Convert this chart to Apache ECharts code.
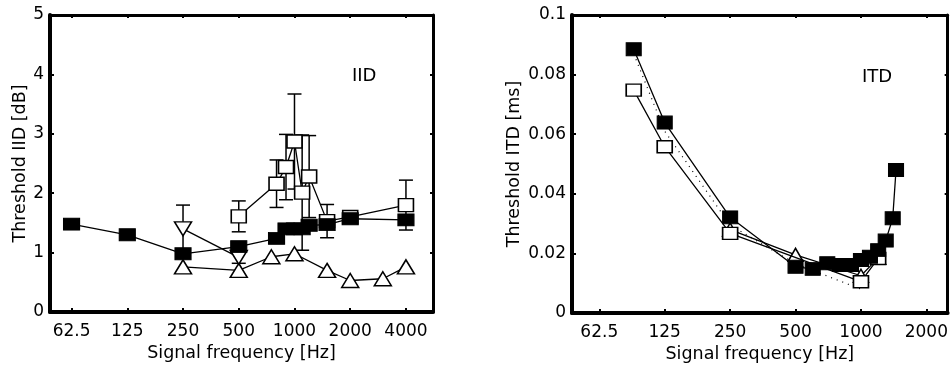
<!DOCTYPE html>
<html>
<head>
<meta charset="utf-8">
<script src="https://cdn.jsdelivr.net/npm/echarts@6/dist/echarts.min.js"></script>
<style>
  html, body { margin: 0; padding: 0; background: #fff; }
  #myCharts { width: 951px; height: 371px; }
</style>
</head>
<body>
<div id="myCharts"></div>
<script>
  // tick labels (Hz)
  var iidTicks = [62.5, 125, 250, 500, 1000, 2000, 4000]
  var itdTicks = [62.5, 125, 250, 500, 1000, 2000]

  // IID panel
  var iidFilledF = [62.5, 125, 250, 500, 800, 900, 1000, 1100, 1200, 1500, 2000, 4000]
  var iidFilledV = [1.48, 1.30, 0.98, 1.10, 1.24, 1.40, 1.40, 1.40, 1.46, 1.47, 1.57, 1.55]
  var iidOpenF = [500, 800, 900, 1000, 1100, 1200, 1500, 2000, 4000]
  var iidOpenV = [1.61, 2.16, 2.44, 2.87, 2.01, 2.28, 1.53, 1.60, 1.80]
  var iidOpenErr = [0.26, 0.40, 0.55, 0.80, 0.97, 0.69, 0.28, 0, 0.42]
  var iidDownF = [250, 500]
  var iidDownV = [1.40, 0.92]
  var iidDownErr = [0.40, 0.10]
  var iidUpF = [250, 500, 750, 1000, 1500, 2000, 3000, 4000]
  var iidUpV = [0.76, 0.70, 0.93, 0.98, 0.70, 0.53, 0.56, 0.76]

  // ITD panel
  var itdFilledF = [90, 125, 250, 500, 600, 700, 800, 900, 1000, 1100, 1200, 1300, 1400, 1450]
  var itdFilledV = [0.0885, 0.0639, 0.0321, 0.0155, 0.0148, 0.0167, 0.0161, 0.0161, 0.0178, 0.0189, 0.0211, 0.0243, 0.0318, 0.048]
  var itdOpenF = [90, 125, 250, 1000, 1200]
  var itdOpenV = [0.0748, 0.0558, 0.0267, 0.0105, 0.0183]
  var itdUpF = [250, 500, 1000, 1200]
  var itdUpV = [0.028, 0.0195, 0.0125, 0.0185]
  var itdDotF = [90, 125, 250, 500, 1000]
  var itdDotV = [0.087, 0.061, 0.0295, 0.0165, 0.008]

  var FONT = 'DejaVu Sans'

  // frequency -> octave position for the value axis
  function pts(f, v, e) {
    return f.map(function (x, i) {
      return e ? [Math.log2(x), v[i], e[i]] : [Math.log2(x), v[i]]
    })
  }
  function hz(v) {
    return String(+Math.pow(2, v).toFixed(1))
  }

  function xAxes(idx, ticks, lo, hi) {
    var cv = ticks.map(function (t) { return Math.log2(t) })
    return [{
      type: 'value', gridIndex: idx, min: Math.log2(lo), max: Math.log2(hi),
      name: 'Signal frequency [Hz]', nameLocation: 'middle', nameGap: 27,
      nameTextStyle: { fontFamily: FONT, fontSize: 17.5, color: '#000' },
      axisLine: { onZero: false, lineStyle: { color: '#000', width: 4 } },
      axisTick: { inside: true, length: 4, customValues: cv, lineStyle: { color: '#000', width: 2 } },
      axisLabel: { customValues: cv, formatter: hz, margin: 11, fontFamily: FONT, fontSize: 17, color: '#000' },
      splitLine: { show: false }
    }, {
      type: 'value', gridIndex: idx, position: 'top', min: Math.log2(lo), max: Math.log2(hi),
      axisLine: { onZero: false, lineStyle: { color: '#000', width: 3 } },
      axisTick: { inside: true, length: 3, customValues: cv, lineStyle: { color: '#000', width: 2 } },
      axisLabel: { show: false }, splitLine: { show: false }
    }]
  }

  function yAxes(idx, max, step, name, gap, fmt) {
    return [{
      type: 'value', gridIndex: idx, min: 0, max: max, interval: step,
      name: name, nameLocation: 'middle', nameGap: gap,
      nameTextStyle: { fontFamily: FONT, fontSize: 17.5, color: '#000' },
      axisLine: { show: true, onZero: false, lineStyle: { color: '#000', width: 4 } },
      axisTick: { show: true, inside: true, length: 4, lineStyle: { color: '#000', width: 2 } },
      axisLabel: { margin: 6, formatter: fmt, fontFamily: FONT, fontSize: 17, color: '#000' },
      splitLine: { show: false }
    }, {
      type: 'value', gridIndex: idx, position: 'right', min: 0, max: max, interval: step,
      axisLine: { show: true, onZero: false, lineStyle: { color: '#000', width: 3 } },
      axisTick: { show: true, inside: true, length: 3, lineStyle: { color: '#000', width: 2 } },
      axisLabel: { show: false }, splitLine: { show: false }
    }]
  }

  var filledStyle = { color: '#000', borderColor: '#000', borderWidth: 1 }
  var openStyle = { color: '#fff', borderColor: '#000', borderWidth: 1.5 }
  var lineSt = { color: '#000', width: 1.3 }

  function lineSeries(xi, yi, data, symbol, size, style, z) {
    return {
      type: 'line', xAxisIndex: xi, yAxisIndex: yi, data: data,
      symbol: symbol, symbolSize: size, itemStyle: style, lineStyle: lineSt,
      animation: false, z: z
    }
  }

  // error bars with caps
  function errSeries(xi, yi, data) {
    return {
      type: 'custom', xAxisIndex: xi, yAxisIndex: yi, data: data, z: 1, animation: false,
      renderItem: function (params, api) {
        var x = api.value(0), y = api.value(1), e = api.value(2)
        if (!e) return
        var hi = api.coord([x, y + e])
        var lo = api.coord([x, y - e])
        var w = 7
        var st = { stroke: '#000', lineWidth: 1.5 }
        return {
          type: 'group', children: [
            { type: 'line', shape: { x1: hi[0], y1: hi[1], x2: lo[0], y2: lo[1] }, style: st },
            { type: 'line', shape: { x1: hi[0] - w, y1: hi[1], x2: hi[0] + w, y2: hi[1] }, style: st },
            { type: 'line', shape: { x1: lo[0] - w, y1: lo[1], x2: lo[0] + w, y2: lo[1] }, style: st }
          ]
        }
      }
    }
  }

  var myCharts = echarts.init(document.getElementById('myCharts'))

  var option = {
    animation: false,
    backgroundColor: '#fff',
    title: [
      { text: 'IID', left: 352, top: 67, padding: 0, textStyle: { fontFamily: FONT, fontSize: 18, fontWeight: 'normal', color: '#000' } },
      { text: 'ITD', left: 862, top: 68, padding: 0, textStyle: { fontFamily: FONT, fontSize: 18, fontWeight: 'normal', color: '#000' } }
    ],
    grid: [
      { left: 50, right: 518, top: 15, bottom: 59 },
      { left: 572, right: 3, top: 15, bottom: 58 }
    ],
    xAxis: xAxes(0, iidTicks, 47.8, 5600).concat(xAxes(1, itdTicks, 46.8, 2506)),
    yAxis: yAxes(0, 5, 1, 'Threshold IID [dB]', 19, function (v) { return String(v) })
      .concat(yAxes(1, 0.1, 0.02, 'Threshold ITD [ms]', 49, function (v) { return String(+v.toFixed(2)) })),
    series: [
      // left
      errSeries(0, 0, pts(iidOpenF, iidOpenV, iidOpenErr)),
      errSeries(0, 0, pts(iidDownF, iidDownV, iidDownErr)),
      lineSeries(0, 0, pts(iidUpF, iidUpV), 'triangle', [17, 14], openStyle, 3),
      lineSeries(0, 0, pts(iidDownF, iidDownV), 'path://M0,0 L2,0 L1,2 Z', [17, 14], openStyle, 3),
      lineSeries(0, 0, pts(iidOpenF, iidOpenV), 'rect', [15, 13], openStyle, 4),
      lineSeries(0, 0, pts(iidFilledF, iidFilledV), 'rect', [16, 12], filledStyle, 5),
      // right
      {
        type: 'line', xAxisIndex: 2, yAxisIndex: 2, data: pts(itdDotF, itdDotV),
        symbol: 'none', lineStyle: { color: '#000', width: 1.2, type: [1, 5] }, z: 2, animation: false
      },
      lineSeries(2, 2, pts(itdUpF, itdUpV), 'triangle', [15, 13], openStyle, 3),
      lineSeries(2, 2, pts(itdOpenF, itdOpenV), 'rect', [15, 12], openStyle, 4),
      lineSeries(2, 2, pts(itdFilledF, itdFilledV), 'rect', [15, 13], filledStyle, 5)
    ]
  }
  myCharts.setOption(option)
</script>
</body>
</html>
